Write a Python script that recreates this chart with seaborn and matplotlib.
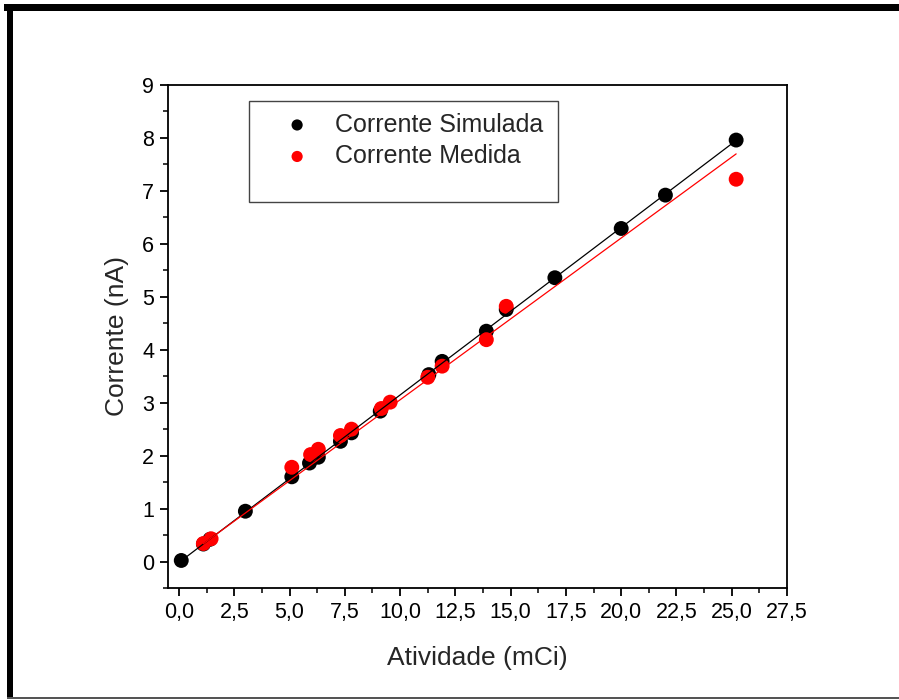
import numpy as np
import pandas as pd
import matplotlib
matplotlib.use("Agg")
import matplotlib.pyplot as plt
from matplotlib.patches import Rectangle
from matplotlib.ticker import MultipleLocator, FuncFormatter
import seaborn as sns

# Simulated current vs. activity
atividade_sim = [0.1, 1.1, 1.4, 3.0, 5.1, 5.9, 6.3, 7.3, 7.8, 9.1, 11.3, 11.9,
                 13.9, 14.8, 17.0, 20.0, 22.0, 25.2]
corrente_sim = [0.02, 0.33, 0.42, 0.95, 1.60, 1.86, 1.97, 2.27, 2.43, 2.84, 3.53,
                3.78, 4.35, 4.76, 5.36, 6.29, 6.92, 7.96]

# Measured current vs. activity
atividade_med = [1.1, 1.45, 5.1, 5.95, 6.3, 7.3, 7.8, 9.15, 9.55, 11.25, 11.9,
                 13.9, 14.8, 25.2]
corrente_med = [0.34, 0.43, 1.78, 2.02, 2.12, 2.38, 2.50, 2.89, 3.01, 3.48, 3.69,
                4.19, 4.82, 7.22]

x_ticks = [0.0, 2.5, 5.0, 7.5, 10.0, 12.5, 15.0, 17.5, 20.0, 22.5, 25.0, 27.5]
y_ticks = [0, 1, 2, 3, 4, 5, 6, 7, 8, 9]

sim = pd.DataFrame({"x": atividade_sim, "y": corrente_sim})
med = pd.DataFrame({"x": atividade_med, "y": corrente_med})


def fit_origem(df):
    """Least-squares line through the origin, evaluated over the data range."""
    k = (df.x * df.y).sum() / (df.x ** 2).sum()
    xs = np.array([df.x.min(), df.x.max()])
    return pd.DataFrame({"x": xs, "y": k * xs})


sns.set_style("ticks")
plt.rcParams["font.family"] = ["Liberation Sans", "DejaVu Sans"]

W, H = 899, 700
fig = plt.figure(figsize=(W / 100, H / 100), dpi=100)
fig.patch.set_facecolor("white")
ax = fig.add_axes([168 / W, 1 - 588 / H, (787 - 168) / W, (588 - 85) / H])

# Scatter points (simulated first, measured on top)
sns.scatterplot(data=sim, x="x", y="y", ax=ax, color="black", s=115,
                edgecolor="none", zorder=3, label="Corrente Simulada", legend=False)
sns.scatterplot(data=med, x="x", y="y", ax=ax, color="#ff0000", s=115,
                edgecolor="none", zorder=4, label="Corrente Medida", legend=False)

# Linear fits over the data range
sns.regplot(data=sim, x="x", y="y", ax=ax, scatter=False, ci=None, truncate=True,
            line_kws={"color": "black", "lw": 0.9, "zorder": 5})
sns.lineplot(data=fit_origem(med), x="x", y="y", ax=ax, color="#ff0000", lw=0.9,
             zorder=5, legend=False)

ax.set_xlim(-0.5, 27.5)
ax.set_ylim(-0.5, 9)
ax.set_xticks(x_ticks)
ax.set_yticks(y_ticks)
ax.xaxis.set_minor_locator(MultipleLocator(1.25))
ax.yaxis.set_minor_locator(MultipleLocator(0.5))
ax.xaxis.set_major_formatter(FuncFormatter(lambda v, p: f"{v:.1f}".replace(".", ",")))
ax.yaxis.set_major_formatter(FuncFormatter(lambda v, p: f"{int(round(v))}"))

for s in ax.spines.values():
    s.set_visible(True)
    s.set_color("black")
    s.set_linewidth(1.3)

ax.tick_params(axis="both", which="major", direction="out", length=6, width=1.3,
               labelsize=15.5, colors="black", pad=4)
ax.tick_params(axis="both", which="minor", direction="out", length=3.5, width=1.3)
ax.tick_params(top=False, right=False, which="both")

ax.set_xlabel("Atividade (mCi)", fontsize=19, labelpad=17)
ax.set_ylabel("Corrente (nA)", fontsize=19, labelpad=9)

# Legend box with entries
ax.add_patch(Rectangle((0.131, 0.767), 0.499, 0.201, transform=ax.transAxes,
                       facecolor="white", edgecolor="#444444", lw=1.0, zorder=6))
handles, labels = ax.get_legend_handles_labels()
leg = ax.legend(handles, labels, loc="upper left", bbox_to_anchor=(0.148, 0.99),
                frameon=False, fontsize=18, handletextpad=0.9, handlelength=1.2,
                labelspacing=0.3, markerscale=0.75)
leg.set_zorder(7)

# Heavy frame around the figure
fig.add_artist(Rectangle((4 / W, 1 - 11 / H), 1, 7 / H, transform=fig.transFigure,
                         facecolor="black", edgecolor="none"))
fig.add_artist(Rectangle((7 / W, 1 - 698 / H), 6 / W, 694 / H, transform=fig.transFigure,
                         facecolor="black", edgecolor="none"))
fig.add_artist(Rectangle((7 / W, 1 - 699 / H), 1, 2 / H, transform=fig.transFigure,
                         facecolor="#555555", edgecolor="none"))

fig.savefig("out.png", dpi=100)
